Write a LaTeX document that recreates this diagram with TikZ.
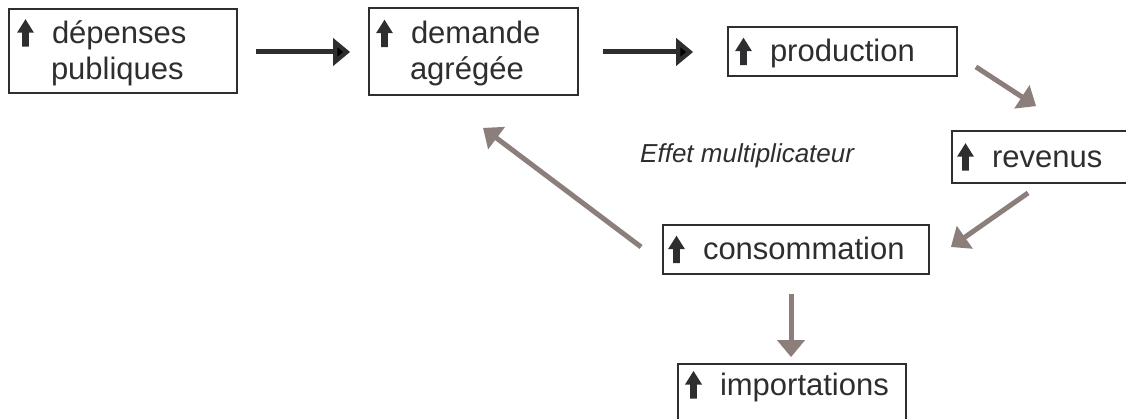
\documentclass[tikz,border=0pt]{standalone}
\usepackage{fontspec}
\setmainfont{Liberation Sans}
\usetikzlibrary{arrows.meta,calc}
\definecolor{txt}{HTML}{2E2E30}
\definecolor{garr}{HTML}{8C7F7B}
\newcommand{\uparr}{\tikz[baseline=0pt,x=1pt,y=1pt]\fill[txt] (4.6,-3.5)--(11.4,-3.5)--(11.4,10.5)--(16.5,10.5)--(8,24)--(-0.5,10.5)--(4.6,10.5)--cycle;\hspace{18pt}}
\newcommand{\sst}{\rule[-6.5pt]{0pt}{33.5pt}}
\tikzset{
  box/.style={draw=txt, line width=1.8pt, text=txt, font=\fontsize{31}{36}\selectfont,
    inner xsep=7pt, inner ysep=0pt, align=left, anchor=center},
  darr/.style={draw=txt, line width=5pt, -{Triangle[length=17pt,width=27pt]}},
  garrow/.style={draw=garr, line width=5pt, -{Triangle[length=17pt,width=27pt]}},
}
\begin{document}
\begin{tikzpicture}[x=1pt,y=-1pt]
\useasboundingbox (0,0) rectangle (1126,419);
\node[box, inner xsep=8pt, minimum width=228pt, minimum height=84pt, text width=212pt] (b1) at (123,51)
  {\uparr dépenses\sst\\\hspace*{34pt}publiques\sst};
\node[box, minimum width=209pt, minimum height=87pt, text width=195pt] (b2) at (473.5,51.5)
  {\uparr demande\sst\\\hspace*{34pt}agrégée\sst};
\node[box, minimum width=229pt, minimum height=49pt, text width=215pt] (b3) at (842.5,51.5)
  {\uparr production\sst};
\node[box, inner xsep=5pt, minimum width=184pt, minimum height=52pt, text width=174pt] (b4) at (1044,157)
  {\uparr revenus\sst};
\node[box, inner xsep=5pt, minimum width=266pt, minimum height=49pt, text width=256pt] (b5) at (796,249.5)
  {\uparr consommation\sst};
\node[box, minimum width=228pt, minimum height=60pt, text width=214pt] (b6) at (792,394)
  {\uparr importations\rule[-25pt]{0pt}{52pt}};
\node[font=\fontsize{26}{30}\selectfont\itshape, text=txt, anchor=base west, inner sep=0pt] (eff) at (640,163) {Effet multiplicateur};

\draw[darr] ($(b1.east)+(18,1)$) -- ($(b2.west)+(-18,0.5)$);
\draw[darr] ($(b2.east)+(24,0.5)$) -- ($(b3.west)+(-34,0.5)$);
\draw[garrow] ($(b3.south east)+(18,-10)$) -- ($(b4.north west)+(85,-24)$);
\draw[garrow] ($(b4.south west)+(77,9)$) -- ($(b5.east)+(21,-2.5)$);
\draw[garrow] ($(b5.west)+(-21,-2.5)$) -- ($(b2.south)+(9.5,32)$);
\draw[garrow] ($(b5.south)+(-5,19)$) -- ($(b6.north)+(-1,-6)$);
\end{tikzpicture}
\end{document}
